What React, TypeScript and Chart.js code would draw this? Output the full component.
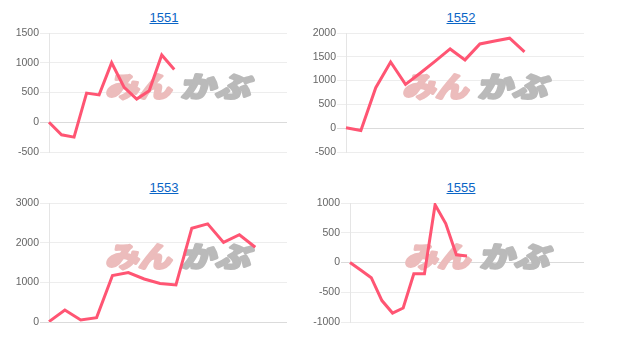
import React, { useEffect, useRef } from 'react';
import { Chart, registerables } from 'chart.js';

Chart.register(...registerables);

// ---- data ----
const titles = ['1551', '1552', '1553', '1555'];

const labels1551 = ['1', '2', '3', '4', '5', '6', '7', '8', '9', '10', '11', '12', '13', '14', '15', '16', '17', '18', '19', '20'];
const values1551 = [0, -210, -250, 490, 460, 1000, 585, 390, 530, 1130, 885];

const labels1552 = ['1', '2', '3', '4', '5', '6', '7', '8', '9', '10', '11', '12', '13', '14', '15', '16', '17'];
const values1552 = [10, -50, 850, 1390, 920, 1160, 1410, 1665, 1435, 1770, 1830, 1890, 1605];

const labels1553 = ['1', '2', '3', '4', '5', '6', '7', '8', '9', '10', '11', '12', '13', '14', '15', '16'];
const values1553 = [10, 300, 50, 110, 1170, 1245, 1085, 970, 935, 2365, 2475, 2005, 2200, 1885];

const labels1555 = ['1', '2', '3', '4', '5', '6', '7', '8', '9', '10', '11', '12', '13', '14', '15', '16', '17', '18', '19', '20', '21', '22', '23'];
const values1555 = [0, -125, -255, -640, -850, -765, -190, -190, 970, 655, 130, 110];

const yMin = [-500, -500, 0, -1000];
const yMax = [1500, 2000, 3000, 1000];
const yStep = [500, 500, 1000, 500];

const watermarkA = 'みん';
const watermarkB = 'かぶ';

// ---- layout ----
const CANVAS_W = 297;
const CANVAS_H = 135;
const cells = [
  { left: 0, top: 25, titleCx: 164, titleTop: 10, axisW: 49 },
  { left: 297, top: 25, titleCx: 461, titleTop: 10, axisW: 49 },
  { left: 0, top: 195, titleCx: 164, titleTop: 180, axisW: 49 },
  { left: 297, top: 195, titleCx: 461, titleTop: 180, axisW: 53 },
];

const watermarkPlugin = {
  id: 'wm',
  beforeDatasetsDraw(chart: any) {
    const { ctx, chartArea: a } = chart;
    const cx = (a.left + a.right) / 2 + 12;
    const cy = (a.top + a.bottom) / 2 - 6;
    const total = 145;
    const wA = 66;
    const wB = 70;
    const startX = cx - total / 2;
    ctx.save();
    ctx.font = 'bold 28px "Noto Sans CJK JP"';
    ctx.textBaseline = 'middle';
    ctx.textAlign = 'left';
    ctx.lineJoin = 'round';
    const mA = ctx.measureText(watermarkA).width;
    const mB = ctx.measureText(watermarkB).width;
    // part A
    ctx.save();
    ctx.translate(startX, cy);
    ctx.transform(1, 0, -0.22, 1, 0, 0);
    ctx.scale(wA / mA, 1);
    ctx.fillStyle = '#ecbcbc';
    ctx.strokeStyle = '#ecbcbc';
    ctx.lineWidth = 3;
    ctx.strokeText(watermarkA, 0, 0);
    ctx.fillText(watermarkA, 0, 0);
    ctx.restore();
    // part B
    ctx.save();
    ctx.translate(startX + total - wB, cy);
    ctx.transform(1, 0, -0.22, 1, 0, 0);
    ctx.scale(wB / mB, 1);
    ctx.fillStyle = '#bababa';
    ctx.strokeStyle = '#bababa';
    ctx.lineWidth = 3;
    ctx.strokeText(watermarkB, 0, 0);
    ctx.fillText(watermarkB, 0, 0);
    ctx.restore();
    ctx.restore();
  },
};

function MiniChart({ idx, labels, values }: { idx: number; labels: string[]; values: number[] }) {
  const ref = useRef<HTMLCanvasElement | null>(null);
  const cell = cells[idx];
  useEffect(() => {
    if (!ref.current) return;
    const chart = new Chart(ref.current, {
      type: 'line',
      data: {
        labels,
        datasets: [
          {
            data: values,
            borderColor: 'rgb(255, 85, 115)',
            backgroundColor: 'rgb(255, 85, 115)',
            borderWidth: 3,
            pointRadius: 0,
            tension: 0,
            fill: false,
          },
        ],
      },
      options: {
        animation: false,
        responsive: false,
        maintainAspectRatio: false,
        layout: { padding: { top: 8, bottom: 8, right: 10, left: 0 } },
        plugins: {
          legend: { display: false },
          tooltip: { enabled: false },
          title: { display: false },
        },
        scales: {
          x: { display: false },
          y: {
            min: yMin[idx],
            max: yMax[idx],
            ticks: {
              stepSize: yStep[idx],
              color: '#666',
              padding: 1,
              font: { size: 10.5, family: 'Arial, "Liberation Sans", Helvetica, sans-serif' },
              callback: (v: any) => String(v),
            },
            grid: {
              color: (c: any) => (c.tick && c.tick.value === 0 ? 'rgba(0,0,0,0.14)' : 'rgba(0,0,0,0.07)'),
              tickLength: 9,
              drawTicks: true,
            },
            border: { color: 'rgba(0,0,0,0.1)' },
            afterFit: (s: any) => {
              s.width = cell.axisW;
            },
          },
        },
      },
      plugins: [watermarkPlugin],
    } as any);
    return () => chart.destroy();
  }, []);
  return (
    <>
      <div
        style={{
          position: 'absolute',
          left: cell.titleCx - 50,
          top: cell.titleTop,
          width: 100,
          textAlign: 'center',
          lineHeight: '15px',
          fontSize: 13,
          fontFamily: 'Arial, "Liberation Sans", sans-serif',
        }}
      >
        <a href="#" style={{ color: '#0a65c6' }} onClick={(e) => e.preventDefault()}>
          {titles[idx]}
        </a>
      </div>
      <canvas
        ref={ref}
        width={CANVAS_W}
        height={CANVAS_H}
        style={{ position: 'absolute', left: cell.left, top: cell.top, width: CANVAS_W, height: CANVAS_H }}
      />
    </>
  );
}

export default function App() {
  return (
    <div style={{ position: 'relative', width: 617, height: 337 }}>
      <div style={{ position: 'fixed', left: 0, top: 0, width: 617, height: 353, background: '#fff' }}>
        <MiniChart idx={0} labels={labels1551} values={values1551} />
        <MiniChart idx={1} labels={labels1552} values={values1552} />
        <MiniChart idx={2} labels={labels1553} values={values1553} />
        <MiniChart idx={3} labels={labels1555} values={values1555} />
      </div>
    </div>
  );
}
